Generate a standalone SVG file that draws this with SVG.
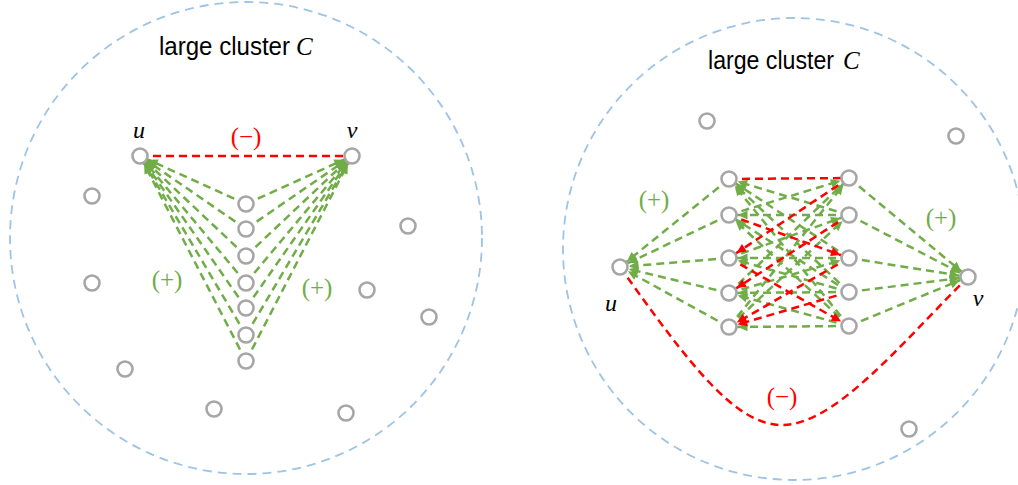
<svg xmlns="http://www.w3.org/2000/svg" width="1018" height="485" viewBox="0 0 1018 485">
<style>
.cl{fill:none;stroke:#9dc3e6;stroke-width:1.8;stroke-dasharray:9 6}
.n{fill:#fff;stroke:#a6a6a6;stroke-width:2.6}
.g{stroke:#70ad47;stroke-width:2.5;stroke-dasharray:8 5;fill:none}
.r{stroke:#ff0000;stroke-width:2.5;stroke-dasharray:8 5;fill:none}
.t{font-family:"Liberation Sans",Arial,sans-serif;font-size:25px;fill:#000}
.ci{font-family:"Liberation Serif","Times New Roman",serif;font-style:italic;font-size:25px}
.lb{font-family:"Liberation Serif","Times New Roman",serif;font-style:italic;font-size:24px;fill:#000;text-anchor:middle}
.sg{font-family:"Liberation Serif","Times New Roman",serif;font-size:25px;text-anchor:middle}
</style>
<defs>
<marker id="ag" viewBox="-20 -5 20 10" markerWidth="20" markerHeight="10" refX="0" refY="0" orient="auto" markerUnits="userSpaceOnUse"><path d="M-18.5,-4.5 L-9,0 L-18.5,4.5 z" fill="#70ad47"/></marker>
<marker id="ar" viewBox="-20 -5 20 10" markerWidth="20" markerHeight="10" refX="0" refY="0" orient="auto" markerUnits="userSpaceOnUse"><path d="M-18.5,-4.5 L-9,0 L-18.5,4.5 z" fill="#ff0000"/></marker>
</defs>
<rect width="1018" height="485" fill="#fff"/>

<g id="clusters">
<circle class="cl" cx="246" cy="238" r="236"/>
<circle class="cl" cx="794" cy="249" r="231"/>
</g>

<g id="connectors">
<!-- left diagram -->
<line class="r" x1="140" y1="156" x2="352" y2="156"/>
<line class="g" x1="246" y1="204" x2="140" y2="156" marker-end="url(#ag)"/>
<line class="g" x1="246" y1="229" x2="140" y2="156" marker-end="url(#ag)"/>
<line class="g" x1="246" y1="256" x2="140" y2="156" marker-end="url(#ag)"/>
<line class="g" x1="246" y1="283" x2="140" y2="156" marker-end="url(#ag)"/>
<line class="g" x1="246" y1="308" x2="140" y2="156" marker-end="url(#ag)"/>
<line class="g" x1="246" y1="335" x2="140" y2="156" marker-end="url(#ag)"/>
<line class="g" x1="246" y1="361" x2="140" y2="156" marker-end="url(#ag)"/>
<line class="g" x1="246" y1="204" x2="352" y2="156" marker-end="url(#ag)"/>
<line class="g" x1="246" y1="229" x2="352" y2="156" marker-end="url(#ag)"/>
<line class="g" x1="246" y1="256" x2="352" y2="156" marker-end="url(#ag)"/>
<line class="g" x1="246" y1="283" x2="352" y2="156" marker-end="url(#ag)"/>
<line class="g" x1="246" y1="308" x2="352" y2="156" marker-end="url(#ag)"/>
<line class="g" x1="246" y1="335" x2="352" y2="156" marker-end="url(#ag)"/>
<line class="g" x1="246" y1="361" x2="352" y2="156" marker-end="url(#ag)"/>

<!-- right diagram: to u and v -->
<line class="g" x1="729" y1="179" x2="620" y2="267" marker-end="url(#ag)"/>
<line class="g" x1="729" y1="215" x2="620" y2="267" marker-end="url(#ag)"/>
<line class="g" x1="729" y1="258" x2="620" y2="267" marker-end="url(#ag)"/>
<line class="g" x1="729" y1="293" x2="620" y2="267" marker-end="url(#ag)"/>
<line class="g" x1="729" y1="327" x2="620" y2="267" marker-end="url(#ag)"/>
<line class="g" x1="849" y1="178" x2="968" y2="277" marker-end="url(#ag)"/>
<line class="g" x1="849" y1="215" x2="968" y2="277" marker-end="url(#ag)"/>
<line class="g" x1="849" y1="258" x2="968" y2="277" marker-end="url(#ag)"/>
<line class="g" x1="849" y1="292" x2="968" y2="277" marker-end="url(#ag)"/>
<line class="g" x1="849" y1="326" x2="968" y2="277" marker-end="url(#ag)"/>
<path class="r" d="M620,267 C690,365 735,425 782,425 C835,425 900,345 968,277"/>

<!-- right diagram: between columns, green -->
<line class="g" x1="849" y1="215" x2="729" y2="179" marker-end="url(#ag)"/>
<line class="g" x1="849" y1="258" x2="729" y2="179" marker-end="url(#ag)"/>
<line class="g" x1="849" y1="292" x2="729" y2="179" marker-end="url(#ag)"/>
<line class="g" x1="849" y1="326" x2="729" y2="179" marker-end="url(#ag)"/>
<line class="g" x1="729" y1="215" x2="849" y2="178" marker-end="url(#ag)"/>
<line class="g" x1="849" y1="215" x2="729" y2="215" marker-end="url(#ag)"/>
<line class="g" x1="849" y1="292" x2="729" y2="215" marker-end="url(#ag)"/>
<line class="g" x1="849" y1="326" x2="729" y2="215" marker-end="url(#ag)"/>
<line class="g" x1="729" y1="258" x2="849" y2="215" marker-end="url(#ag)"/>
<line class="g" x1="849" y1="258" x2="729" y2="258" marker-end="url(#ag)"/>
<line class="g" x1="849" y1="292" x2="729" y2="258" marker-end="url(#ag)"/>
<line class="g" x1="729" y1="293" x2="849" y2="178" marker-end="url(#ag)"/>
<line class="g" x1="729" y1="293" x2="849" y2="258" marker-end="url(#ag)"/>
<line class="g" x1="849" y1="292" x2="729" y2="293" marker-end="url(#ag)"/>
<line class="g" x1="849" y1="326" x2="729" y2="293" marker-end="url(#ag)"/>
<line class="g" x1="729" y1="327" x2="849" y2="178" marker-end="url(#ag)"/>
<line class="g" x1="729" y1="327" x2="849" y2="215" marker-end="url(#ag)"/>
<line class="g" x1="849" y1="326" x2="729" y2="327" marker-end="url(#ag)"/>

<!-- right diagram: between columns, red -->
<line class="r" x1="729" y1="179" x2="849" y2="178"/>
<line class="r" x1="849" y1="178" x2="729" y2="258" marker-end="url(#ar)"/>
<line class="r" x1="729" y1="215" x2="849" y2="258" marker-end="url(#ar)"/>
<line class="r" x1="849" y1="215" x2="729" y2="293" marker-end="url(#ar)"/>
<line class="r" x1="729" y1="258" x2="849" y2="326" marker-end="url(#ar)"/>
<line class="r" x1="849" y1="258" x2="729" y2="327" marker-end="url(#ar)"/>
<line class="r" x1="849" y1="292" x2="729" y2="327" marker-end="url(#ar)"/>
</g>

<g id="left-nodes">
<g id="L-u"><circle class="n" cx="140" cy="156" r="7.5"/></g>
<g id="L-v"><circle class="n" cx="352" cy="156" r="7.5"/></g>
<g id="L-m1"><circle class="n" cx="246" cy="204" r="7.5"/></g>
<g id="L-m2"><circle class="n" cx="246" cy="229" r="7.5"/></g>
<g id="L-m3"><circle class="n" cx="246" cy="256" r="7.5"/></g>
<g id="L-m4"><circle class="n" cx="246" cy="283" r="7.5"/></g>
<g id="L-m5"><circle class="n" cx="246" cy="308" r="7.5"/></g>
<g id="L-m6"><circle class="n" cx="246" cy="335" r="7.5"/></g>
<g id="L-m7"><circle class="n" cx="246" cy="361" r="7.5"/></g>
<g id="L-o1"><circle class="n" cx="92" cy="196" r="7.5"/></g>
<g id="L-o2"><circle class="n" cx="92" cy="283" r="7.5"/></g>
<g id="L-o3"><circle class="n" cx="408" cy="226" r="7.5"/></g>
<g id="L-o4"><circle class="n" cx="367" cy="290" r="7.5"/></g>
<g id="L-o5"><circle class="n" cx="429" cy="317" r="7.5"/></g>
<g id="L-o6"><circle class="n" cx="125" cy="369" r="7.5"/></g>
<g id="L-o7"><circle class="n" cx="214" cy="409" r="7.5"/></g>
<g id="L-o8"><circle class="n" cx="346" cy="413" r="7.5"/></g>
</g>

<g id="right-nodes">
<g id="R-u"><circle class="n" cx="620" cy="267" r="7.5"/></g>
<g id="R-v"><circle class="n" cx="968" cy="277" r="7.5"/></g>
<g id="R-l1"><circle class="n" cx="729" cy="179" r="7.5"/></g>
<g id="R-l2"><circle class="n" cx="729" cy="215" r="7.5"/></g>
<g id="R-l3"><circle class="n" cx="729" cy="258" r="7.5"/></g>
<g id="R-l4"><circle class="n" cx="729" cy="293" r="7.5"/></g>
<g id="R-l5"><circle class="n" cx="729" cy="327" r="7.5"/></g>
<g id="R-r1"><circle class="n" cx="849" cy="178" r="7.5"/></g>
<g id="R-r2"><circle class="n" cx="849" cy="215" r="7.5"/></g>
<g id="R-r3"><circle class="n" cx="849" cy="258" r="7.5"/></g>
<g id="R-r4"><circle class="n" cx="849" cy="292" r="7.5"/></g>
<g id="R-r5"><circle class="n" cx="849" cy="326" r="7.5"/></g>
<g id="R-o1"><circle class="n" cx="707" cy="121" r="7.5"/></g>
<g id="R-o2"><circle class="n" cx="956" cy="136" r="7.5"/></g>
<g id="R-o3"><circle class="n" cx="909" cy="429" r="7.5"/></g>
</g>

<g id="labels">
<text class="t" x="159" y="55" textLength="131" lengthAdjust="spacingAndGlyphs">large cluster</text>
<text class="ci" x="296" y="55">C</text>
<text class="t" x="708" y="69" textLength="126" lengthAdjust="spacingAndGlyphs">large cluster</text>
<text class="ci" x="843" y="69">C</text>
<text class="lb" x="139" y="138">u</text>
<text class="lb" x="352" y="138">v</text>
<text class="lb" x="611" y="311">u</text>
<text class="lb" x="978" y="306">v</text>
<text class="sg" x="246" y="145" fill="#ff0000">(−)</text>
<text class="sg" x="167" y="288" fill="#70ad47">(+)</text>
<text class="sg" x="317" y="296" fill="#70ad47">(+)</text>
<text class="sg" x="654" y="208" fill="#70ad47">(+)</text>
<text class="sg" x="941" y="226" fill="#70ad47">(+)</text>
<text class="sg" x="782" y="405" fill="#ff0000">(−)</text>
</g>
</svg>
